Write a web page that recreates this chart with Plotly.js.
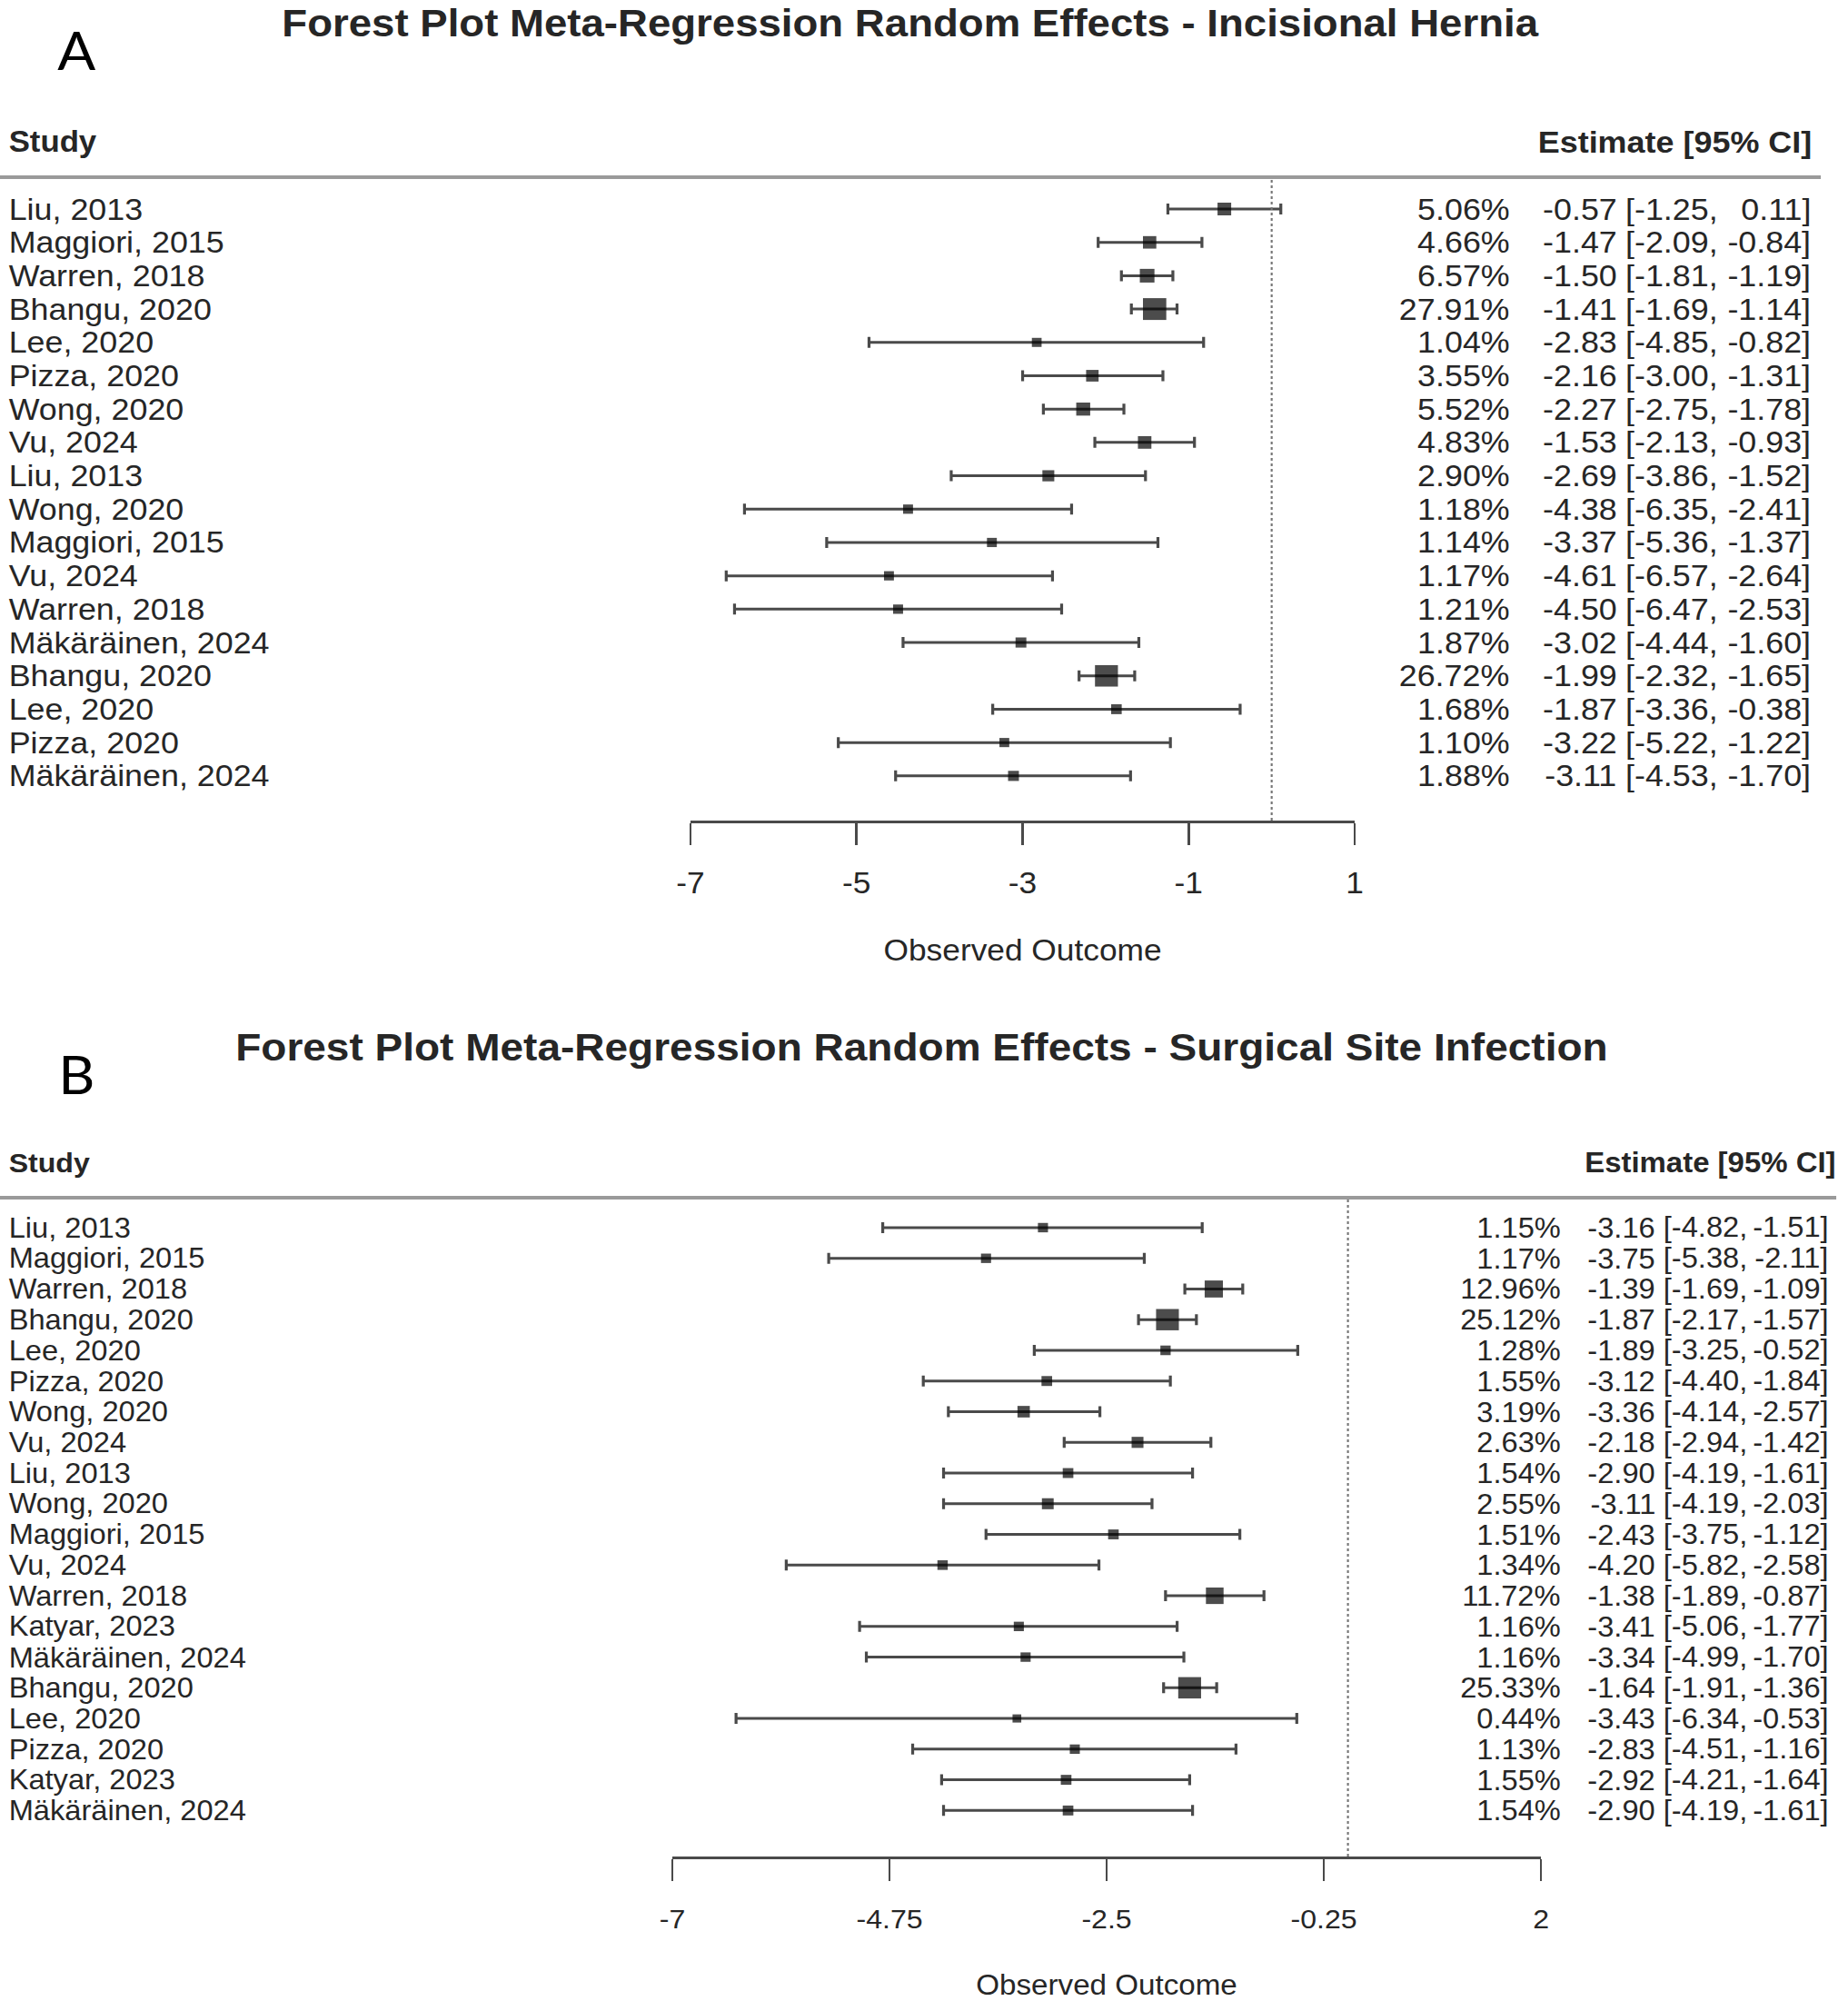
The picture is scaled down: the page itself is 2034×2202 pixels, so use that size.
<!DOCTYPE html>
<html>
<head>
<meta charset="utf-8">
<script src="https://cdn.plot.ly/plotly-3.0.1.min.js"></script>
<style>
  html, body { margin: 0; padding: 0; background: #ffffff; overflow: hidden; }
  /* the reference picture is slightly stretched horizontally; reproduce that aspect */
  #chart { width: 1901px; height: 2202px; transform: scaleX(1.07); transform-origin: 0 0; }
</style>
</head>
<body>
<div id="chart"></div>
<script>
// ---------------- Panel A : Incisional Hernia ----------------
const studiesA = ["Liu, 2013", "Maggiori, 2015", "Warren, 2018", "Bhangu, 2020", "Lee, 2020",
  "Pizza, 2020", "Wong, 2020", "Vu, 2024", "Liu, 2013", "Wong, 2020", "Maggiori, 2015",
  "Vu, 2024", "Warren, 2018", "Mäkäräinen, 2024", "Bhangu, 2020", "Lee, 2020",
  "Pizza, 2020", "Mäkäräinen, 2024"];
const weightsA = [5.06, 4.66, 6.57, 27.91, 1.04, 3.55, 5.52, 4.83, 2.90, 1.18, 1.14, 1.17,
  1.21, 1.87, 26.72, 1.68, 1.10, 1.88];
const estimatesA = [-0.57, -1.47, -1.50, -1.41, -2.83, -2.16, -2.27, -1.53, -2.69, -4.38,
  -3.37, -4.61, -4.50, -3.02, -1.99, -1.87, -3.22, -3.11];
const lowerA = [-1.25, -2.09, -1.81, -1.69, -4.85, -3.00, -2.75, -2.13, -3.86, -6.35,
  -5.36, -6.57, -6.47, -4.44, -2.32, -3.36, -5.22, -4.53];
const upperA = [0.11, -0.84, -1.19, -1.14, -0.82, -1.31, -1.78, -0.93, -1.52, -2.41,
  -1.37, -2.64, -2.53, -1.60, -1.65, -0.38, -1.22, -1.70];
const tickLabelsA = ["-7", "-5", "-3", "-1", "1"];

// ---------------- Panel B : Surgical Site Infection ----------------
const studiesB = ["Liu, 2013", "Maggiori, 2015", "Warren, 2018", "Bhangu, 2020", "Lee, 2020",
  "Pizza, 2020", "Wong, 2020", "Vu, 2024", "Liu, 2013", "Wong, 2020", "Maggiori, 2015",
  "Vu, 2024", "Warren, 2018", "Katyar, 2023", "Mäkäräinen, 2024", "Bhangu, 2020",
  "Lee, 2020", "Pizza, 2020", "Katyar, 2023", "Mäkäräinen, 2024"];
const weightsB = [1.15, 1.17, 12.96, 25.12, 1.28, 1.55, 3.19, 2.63, 1.54, 2.55, 1.51, 1.34,
  11.72, 1.16, 1.16, 25.33, 0.44, 1.13, 1.55, 1.54];
const estimatesB = [-3.16, -3.75, -1.39, -1.87, -1.89, -3.12, -3.36, -2.18, -2.90, -3.11,
  -2.43, -4.20, -1.38, -3.41, -3.34, -1.64, -3.43, -2.83, -2.92, -2.90];
const lowerB = [-4.82, -5.38, -1.69, -2.17, -3.25, -4.40, -4.14, -2.94, -4.19, -4.19,
  -3.75, -5.82, -1.89, -5.06, -4.99, -1.91, -6.34, -4.51, -4.21, -4.19];
const upperB = [-1.51, -2.11, -1.09, -1.57, -0.52, -1.84, -2.57, -1.42, -1.61, -2.03,
  -1.12, -2.58, -0.87, -1.77, -1.70, -1.36, -0.53, -1.16, -1.64, -1.61];
const tickLabelsB = ["-7", "-4.75", "-2.5", "-0.25", "2"];

// ---------------- Layout helpers ----------------
const REF_W = 2034, H = 2202, STRETCH = 1.07;
const W = Math.round(REF_W / STRETCH);
const px = v => v / REF_W;          // positions measured on the reference, as paper fractions
const py = v => 1 - v / H;
const FONT = "Liberation Sans, Arial, Helvetica, sans-serif";
const TXT = "#262626";
const LINE = "#4a4a4a";

function squareSizes(weights, sMin, sMax) {
  const r = weights.map(Math.sqrt);
  const lo = Math.min(...r), hi = Math.max(...r);
  return r.map(v => sMin + (v - lo) / (hi - lo) * (sMax - sMin));
}

function forestTrace(est, lo, up, weights, xa, ya, sMin, sMax) {
  return {
    type: "scatter", mode: "markers",
    x: est, y: est.map((_, i) => i),
    xaxis: xa, yaxis: ya,
    marker: { symbol: "square", size: squareSizes(weights, sMin, sMax), color: "#000000", line: { width: 0 } },
    error_x: {
      type: "data", symmetric: false,
      array: up.map((u, i) => u - est[i]),
      arrayminus: lo.map((l, i) => est[i] - l),
      color: LINE, thickness: 3, width: 6
    },
    cliponaxis: false, hoverinfo: "skip", showlegend: false
  };
}

const annotations = [];
function addRows(studies, weights, est, lo, up, yref, cols, fs) {
  const f = { family: FONT, size: fs, color: TXT };
  studies.forEach((s, i) => {
    const base = { xref: "paper", yref: yref, y: i, yanchor: "middle", showarrow: false, borderpad: 0, font: f };
    annotations.push(Object.assign({}, base, { x: px(cols.label), xanchor: "left", text: s }));
    annotations.push(Object.assign({}, base, { x: px(cols.w), xanchor: "right", text: weights[i].toFixed(2) + "%" }));
    annotations.push(Object.assign({}, base, { x: px(cols.e), xanchor: "right", text: est[i].toFixed(2) }));
    annotations.push(Object.assign({}, base, { x: px(cols.l), xanchor: "left", text: "[" + lo[i].toFixed(2) + "," }));
    annotations.push(Object.assign({}, base, { x: px(cols.r), xanchor: "right", text: up[i].toFixed(2) + "]" }));
  });
}
function addText(text, x, y, anchor, size, bold, family) {
  annotations.push({
    xref: "paper", yref: "paper", x: px(x), y: py(y), xanchor: anchor, yanchor: "middle",
    showarrow: false, borderpad: 0, text: bold ? "<b>" + text + "</b>" : text,
    font: { family: family || FONT, size: size, color: family ? "#000000" : TXT }
  });
}

addRows(studiesA, weightsA, estimatesA, lowerA, upperA, "y",
  { label: 9, w: 1663, e: 1780, l: 1788, r: 1994 }, 33.5);
addRows(studiesB, weightsB, estimatesB, lowerB, upperB, "y2",
  { label: 9, w: 1718, e: 1823, l: 1830, r: 2014 }, 30.5);

addText("Forest Plot Meta-Regression Random Effects - Incisional Hernia", 1002, 25, "center", 42.6, true);
addText("Forest Plot Meta-Regression Random Effects - Surgical Site Infection", 1014, 1152, "center", 43, true);
addText("A", 84, 55, "center", 58, false, "Lato, Noto Sans, sans-serif");
addText("B", 84, 1181, "center", 58, false, "Lato, Noto Sans, sans-serif");
addText("Study", 9, 156, "left", 32.5, true);
addText("Estimate [95% CI]", 1996, 156, "right", 33.6, true);
addText("Study", 9, 1279, "left", 30, true);
addText("Estimate [95% CI]", 2021, 1279, "right", 30.8, true);

const shapes = [
  { type: "line", xref: "paper", yref: "paper", x0: 0, x1: px(2004), y0: py(195), y1: py(195), line: { color: "#9a9a9a", width: 4 } },
  { type: "line", xref: "paper", yref: "paper", x0: 0, x1: px(2021), y0: py(1318), y1: py(1318), line: { color: "#9a9a9a", width: 4 } },
  { type: "line", xref: "x", yref: "y domain", x0: 0, x1: 0, y0: 0, y1: 1, line: { color: "#777777", width: 2, dash: "dot" } },
  { type: "line", xref: "x2", yref: "y2 domain", x0: 0, x1: 0, y0: 0, y1: 1, line: { color: "#777777", width: 2, dash: "dot" } }
];

function xAxis(domain, range, labels, anchor, fs, titleFs, labelOff, standoff) {
  return {
    domain: domain, range: range, anchor: anchor,
    tickmode: "array", tickvals: labels.map(Number), ticktext: labels,
    ticks: "outside", ticklen: 24, tickwidth: 2.4, tickcolor: LINE,
    showline: true, linecolor: LINE, linewidth: 2.5,
    showgrid: false, zeroline: false, fixedrange: true,
    tickfont: { family: FONT, size: fs, color: TXT },
    ticklabelstandoff: labelOff,
    title: { text: "Observed Outcome", font: { family: FONT, size: titleFs, color: TXT }, standoff: standoff }
  };
}
function yAxis(domain, range) {
  return {
    domain: domain, range: range, showline: false, showgrid: false, zeroline: false,
    showticklabels: false, ticks: "", fixedrange: true
  };
}

// Row i is drawn at y = i; ranges chosen so rows sit between header rule and axis line
const layout = {
  width: W, height: H,
  margin: { l: 0, r: 0, t: 0, b: 0, pad: 0 },
  paper_bgcolor: "#ffffff", plot_bgcolor: "#ffffff",
  showlegend: false,
  xaxis: xAxis([px(760), px(1491)], [-7, 1], tickLabelsA, "y", 33, 33, 14, 45),
  yaxis: yAxis([py(903), py(195)], [18.34, -0.954]),
  xaxis2: xAxis([px(740), px(1696)], [-7, 2], tickLabelsB, "y2", 30, 31, 17, 50),
  yaxis2: yAxis([py(2043), py(1318)], [20.5, -0.976]),
  annotations: annotations,
  shapes: shapes
};

const data = [
  forestTrace(estimatesA, lowerA, upperA, weightsA, "x", "y", 10, 24),
  forestTrace(estimatesB, lowerB, upperB, weightsB, "x2", "y2", 9, 23.5)
];

Plotly.newPlot("chart", data, layout, { staticPlot: true, displayModeBar: false });
</script>
</body>
</html>
